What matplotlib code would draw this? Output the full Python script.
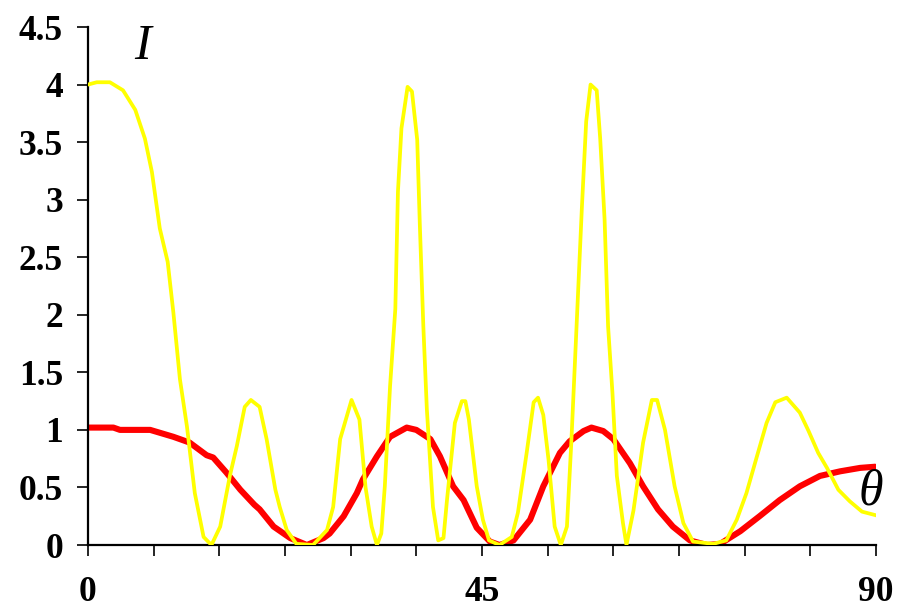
import matplotlib
matplotlib.use("Agg")
import matplotlib.pyplot as plt
from matplotlib.ticker import MultipleLocator, FixedLocator

# Data
yellow_theta = [0, 1.0, 2.5, 4.0, 5.4, 6.5, 7.3, 8.2, 9.1, 9.75, 10.5, 11.3, 12.2, 13.2, 14.1,
                15.1, 16.2, 17.0, 17.9, 18.6, 19.6, 20.4, 21.4, 21.9, 22.7, 23.8, 25.7, 27.3,
                28.0, 28.8, 30.1, 31.0, 31.7, 32.4, 33.0, 33.5, 33.9, 34.5, 35.1, 35.4, 35.8,
                36.5, 37.0, 37.6, 37.9, 38.3, 38.7, 39.4, 40.0, 40.6, 41.0, 41.9, 42.7, 43.1,
                43.5, 44.4, 45.1, 45.8, 47.0, 48.4, 49.1, 50.1, 50.9, 51.4, 52.0, 52.6, 53.3,
                54.0, 54.7, 55.2, 55.8, 56.4, 56.9, 57.4, 58.1, 58.5, 59.0, 59.4, 59.9, 60.4,
                61.1, 61.5, 62.3, 63.4, 64.4, 65.0, 65.9, 67.0, 68.0, 69.1, 71.4, 72.9, 74.1,
                75.2, 76.4, 77.5, 78.5, 79.8, 81.3, 82.3, 83.4, 84.4, 85.7, 87.0, 88.4, 89.9]
yellow_I = [4.0, 4.02, 4.02, 3.95, 3.78, 3.53, 3.24, 2.75, 2.46, 2.02, 1.44, 1.03, 0.45, 0.07, 0.0,
            0.16, 0.6, 0.86, 1.2, 1.26, 1.2, 0.92, 0.48, 0.33, 0.13, 0.01, 0.0, 0.13,
            0.33, 0.92, 1.26, 1.09, 0.5, 0.16, 0.0, 0.1, 0.51, 1.38, 2.05, 3.07, 3.62,
            3.98, 3.94, 3.52, 2.78, 1.9, 1.18, 0.33, 0.04, 0.06, 0.39, 1.06, 1.25, 1.25,
            1.09, 0.51, 0.22, 0.04, 0.0, 0.07, 0.28, 0.8, 1.24, 1.28, 1.13, 0.74, 0.16,
            0.0, 0.16, 0.89, 1.9, 2.92, 3.68, 4.0, 3.95, 3.53, 2.83, 1.9, 1.32, 0.6,
            0.19, 0.0, 0.3, 0.89, 1.26, 1.26, 1.0, 0.51, 0.19, 0.03, 0.01, 0.04, 0.22,
            0.45, 0.77, 1.06, 1.24, 1.28, 1.15, 0.99, 0.8, 0.67, 0.48, 0.38, 0.29, 0.26]

red_theta = [0, 2.9, 3.65, 7.1, 9.75, 11.6, 13.55, 14.3, 15.8, 17.4, 19.0, 19.6, 21.2, 23.1,
             25.0, 26.9, 27.6, 29.2, 30.7, 31.4, 32.2, 33.0, 34.5, 36.4, 37.5, 39.1, 40.2,
             41.7, 42.9, 44.4, 45.9, 47.0, 48.6, 50.5, 52.0, 53.9, 55.0, 56.6, 57.5, 58.85,
             60.0, 61.9, 63.4, 65.1, 66.8, 68.75, 70.7, 72.2, 74.5, 76.7, 79.0, 81.3, 83.6,
             85.9, 88.2, 89.9]
red_I = [1.02, 1.02, 1.0, 1.0, 0.94, 0.89, 0.78, 0.76, 0.63, 0.48, 0.35, 0.31, 0.16, 0.06,
         0.0, 0.06, 0.1, 0.25, 0.45, 0.57, 0.67, 0.77, 0.94, 1.02, 1.0, 0.92, 0.77,
         0.51, 0.39, 0.15, 0.03, 0.0, 0.04, 0.22, 0.51, 0.8, 0.9, 0.99, 1.02, 0.99,
         0.92, 0.71, 0.51, 0.31, 0.16, 0.04, 0.0, 0.01, 0.12, 0.25, 0.39, 0.51, 0.6,
         0.64, 0.67, 0.68]

x_labels = ["0", "45", "90"]
x_label_pos = [0, 45, 90]
y_ticks = [0, 0.5, 1, 1.5, 2, 2.5, 3, 3.5, 4, 4.5]
y_labels = ["0", "0.5", "1", "1.5", "2", "2.5", "3", "3.5", "4", "4.5"]

fig = plt.figure(figsize=(9.02, 6.12), dpi=100)
ax = fig.add_axes([88/902, 1 - 545/612, (876-88)/902, (545-27)/612])

ax.plot(red_theta, red_I, color="#FF0000", lw=4.4, solid_joinstyle="round",
        solid_capstyle="round", zorder=2)
ax.plot(yellow_theta, yellow_I, color="#FFFF00", lw=2.7, solid_joinstyle="round", zorder=3)

ax.set_xlim(0, 90)
ax.set_ylim(0, 4.5)
for s in ["top", "right"]:
    ax.spines[s].set_visible(False)
for s in ["left", "bottom"]:
    ax.spines[s].set_linewidth(1.6)
    ax.spines[s].set_color("black")

ax.xaxis.set_major_locator(FixedLocator(x_label_pos))
ax.set_xticklabels(x_labels)
ax.xaxis.set_minor_locator(MultipleLocator(7.5))
ax.set_yticks(y_ticks)
ax.set_yticklabels(y_labels)

for lab in ax.get_xticklabels() + ax.get_yticklabels():
    lab.set_fontfamily("Liberation Serif")
    lab.set_fontweight("bold")
    lab.set_fontsize(25.5)

ax.tick_params(axis="x", which="both", direction="out", length=8, width=1.2, color="black")
ax.tick_params(axis="x", which="major", pad=14)
ax.tick_params(axis="y", direction="out", length=8, width=1.2, color="black", pad=10)

ax.text(6.2, 4.33, "I", family="Liberation Serif", style="italic", size=36,
        ha="center", va="center", clip_on=False)
ax.text(89.4, 0.46, "θ", family="Liberation Serif", style="italic", size=36,
        ha="center", va="center", clip_on=False)

fig.savefig("out.png", dpi=100)
